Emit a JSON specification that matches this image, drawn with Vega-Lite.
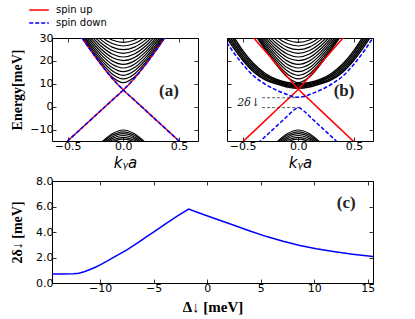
{
"$schema":"https://vega.github.io/schema/vega-lite/v6.json",
"background":"white",
"padding":{"left":9,"top":2,"right":5,"bottom":2},
"datasets":{
"cb":[
{"b":1,"k":-0.4,"e":32.16},{"b":1,"k":-0.3,"e":25.1},{"b":1,"k":-0.2,"e":18.47},{"b":1,"k":-0.1,"e":12.96},{"b":1,"k":0,"e":10.5},{"b":1,"k":0.1,"e":12.96},{"b":1,"k":0.2,"e":18.47},{"b":1,"k":0.3,"e":25.1},{"b":1,"k":0.4,"e":32.16},
{"b":2,"k":-0.4,"e":32.72},{"b":2,"k":-0.3,"e":25.81},{"b":2,"k":-0.2,"e":19.43},{"b":2,"k":-0.1,"e":14.29},{"b":2,"k":0,"e":12.1},{"b":2,"k":0.1,"e":14.29},{"b":2,"k":0.2,"e":19.43},{"b":2,"k":0.3,"e":25.81},{"b":2,"k":0.4,"e":32.72},
{"b":3,"k":-0.4,"e":33.34},{"b":3,"k":-0.3,"e":26.6},{"b":3,"k":-0.2,"e":20.46},{"b":3,"k":-0.1,"e":15.67},{"b":3,"k":0,"e":13.7},{"b":3,"k":0.1,"e":15.67},{"b":3,"k":0.2,"e":20.46},{"b":3,"k":0.3,"e":26.6},{"b":3,"k":0.4,"e":33.34},
{"b":4,"k":-0.4,"e":34.03},{"b":4,"k":-0.3,"e":27.46},{"b":4,"k":-0.2,"e":21.57},{"b":4,"k":-0.1,"e":17.08},{"b":4,"k":0,"e":15.3},{"b":4,"k":0.1,"e":17.08},{"b":4,"k":0.2,"e":21.57},{"b":4,"k":0.3,"e":27.46},{"b":4,"k":0.4,"e":34.03},
{"b":5,"k":-0.4,"e":34.78},{"b":5,"k":-0.3,"e":28.38},{"b":5,"k":-0.2,"e":22.73},{"b":5,"k":-0.1,"e":18.53},{"b":5,"k":0,"e":16.9},{"b":5,"k":0.1,"e":18.53},{"b":5,"k":0.2,"e":22.73},{"b":5,"k":0.3,"e":28.38},{"b":5,"k":0.4,"e":34.78},
{"b":6,"k":-0.4,"e":35.58},{"b":6,"k":-0.3,"e":29.36},{"b":6,"k":-0.2,"e":23.94},{"b":6,"k":-0.1,"e":20.0},{"b":6,"k":0,"e":18.5},{"b":6,"k":0.1,"e":20.0},{"b":6,"k":0.2,"e":23.94},{"b":6,"k":0.3,"e":29.36},{"b":6,"k":0.4,"e":35.58},
{"b":7,"k":-0.4,"e":36.44},{"b":7,"k":-0.3,"e":30.4},{"b":7,"k":-0.2,"e":25.2},{"b":7,"k":-0.1,"e":21.49},{"b":7,"k":0,"e":20.1},{"b":7,"k":0.1,"e":21.49},{"b":7,"k":0.2,"e":25.2},{"b":7,"k":0.3,"e":30.4},{"b":7,"k":0.4,"e":36.44},
{"b":8,"k":-0.3,"e":31.48},{"b":8,"k":-0.2,"e":26.49},{"b":8,"k":-0.1,"e":22.99},{"b":8,"k":0,"e":21.7},{"b":8,"k":0.1,"e":22.99},{"b":8,"k":0.2,"e":26.49},{"b":8,"k":0.3,"e":31.48},
{"b":9,"k":-0.3,"e":32.6},{"b":9,"k":-0.2,"e":27.82},{"b":9,"k":-0.1,"e":24.51},{"b":9,"k":0,"e":23.3},{"b":9,"k":0.1,"e":24.51},{"b":9,"k":0.2,"e":27.82},{"b":9,"k":0.3,"e":32.6},
{"b":10,"k":-0.3,"e":33.76},{"b":10,"k":-0.2,"e":29.17},{"b":10,"k":-0.1,"e":26.03},{"b":10,"k":0,"e":24.9},{"b":10,"k":0.1,"e":26.03},{"b":10,"k":0.2,"e":29.17},{"b":10,"k":0.3,"e":33.76},
{"b":11,"k":-0.3,"e":34.96},{"b":11,"k":-0.2,"e":30.55},{"b":11,"k":-0.1,"e":27.57},{"b":11,"k":0,"e":26.5},{"b":11,"k":0.1,"e":27.57},{"b":11,"k":0.2,"e":30.55},{"b":11,"k":0.3,"e":34.96},
{"b":12,"k":-0.2,"e":31.95},{"b":12,"k":-0.1,"e":29.11},{"b":12,"k":0,"e":28.1},{"b":12,"k":0.1,"e":29.11},{"b":12,"k":0.2,"e":31.95},
{"b":13,"k":-0.2,"e":33.36},{"b":13,"k":-0.1,"e":30.66},{"b":13,"k":0,"e":29.7},{"b":13,"k":0.1,"e":30.66},{"b":13,"k":0.2,"e":33.36}
],
"vb":[
{"b":1,"k":-0.2,"e":-15.75},{"b":1,"k":-0.1,"e":-11.83},{"b":1,"k":0,"e":-10.2},{"b":1,"k":0.1,"e":-11.83},{"b":1,"k":0.2,"e":-15.75},
{"b":2,"k":-0.2,"e":-16.28},{"b":2,"k":-0.1,"e":-12.53},{"b":2,"k":0,"e":-11.0},{"b":2,"k":0.1,"e":-12.53},{"b":2,"k":0.2,"e":-16.28},
{"b":3,"k":-0.2,"e":-16.83},{"b":3,"k":-0.1,"e":-13.24},{"b":3,"k":0,"e":-11.8},{"b":3,"k":0.1,"e":-13.24},{"b":3,"k":0.2,"e":-16.83},
{"b":4,"k":-0.2,"e":-17.4},{"b":4,"k":-0.1,"e":-13.96},{"b":4,"k":0,"e":-12.6},{"b":4,"k":0.1,"e":-13.96},{"b":4,"k":0.2,"e":-17.4},
{"b":5,"k":-0.2,"e":-17.99},{"b":5,"k":-0.1,"e":-14.68},{"b":5,"k":0,"e":-13.4},{"b":5,"k":0.1,"e":-14.68},{"b":5,"k":0.2,"e":-17.99},
{"b":6,"k":-0.2,"e":-18.59},{"b":6,"k":-0.1,"e":-15.42},{"b":6,"k":0,"e":-14.2},{"b":6,"k":0.1,"e":-15.42},{"b":6,"k":0.2,"e":-18.59}
],
"ea":[
{"spin":"spin up","l":"A","k":-0.7,"e":-23.9},{"spin":"spin up","l":"A","k":-0.5,"e":-15.0},{"spin":"spin up","l":"A","k":-0.3,"e":-6.08},{"spin":"spin up","l":"A","k":-0.1,"e":2.84},{"spin":"spin up","l":"A","k":0,"e":7.3},{"spin":"spin up","l":"A","k":0.1,"e":12.4},{"spin":"spin up","l":"A","k":0.2,"e":18.5},{"spin":"spin up","l":"A","k":0.3,"e":25.1},{"spin":"spin up","l":"A","k":0.4,"e":32.2},
{"spin":"spin up","l":"B","k":0.7,"e":-23.9},{"spin":"spin up","l":"B","k":0.5,"e":-15.0},{"spin":"spin up","l":"B","k":0.3,"e":-6.08},{"spin":"spin up","l":"B","k":0.1,"e":2.84},{"spin":"spin up","l":"B","k":0,"e":7.3},{"spin":"spin up","l":"B","k":-0.1,"e":12.4},{"spin":"spin up","l":"B","k":-0.2,"e":18.5},{"spin":"spin up","l":"B","k":-0.3,"e":25.1},{"spin":"spin up","l":"B","k":-0.4,"e":32.2},
{"spin":"spin down","l":"A","k":-0.7,"e":-23.9},{"spin":"spin down","l":"A","k":-0.5,"e":-15.0},{"spin":"spin down","l":"A","k":-0.3,"e":-6.08},{"spin":"spin down","l":"A","k":-0.1,"e":2.84},{"spin":"spin down","l":"A","k":0,"e":7.3},{"spin":"spin down","l":"A","k":0.1,"e":12.4},{"spin":"spin down","l":"A","k":0.2,"e":18.5},{"spin":"spin down","l":"A","k":0.3,"e":25.1},{"spin":"spin down","l":"A","k":0.4,"e":32.2},
{"spin":"spin down","l":"B","k":0.7,"e":-23.9},{"spin":"spin down","l":"B","k":0.5,"e":-15.0},{"spin":"spin down","l":"B","k":0.3,"e":-6.08},{"spin":"spin down","l":"B","k":0.1,"e":2.84},{"spin":"spin down","l":"B","k":0,"e":7.3},{"spin":"spin down","l":"B","k":-0.1,"e":12.4},{"spin":"spin down","l":"B","k":-0.2,"e":18.5},{"spin":"spin down","l":"B","k":-0.3,"e":25.1},{"spin":"spin down","l":"B","k":-0.4,"e":32.2}
],
"db":[
{"b":1,"k":-0.7,"e":34.6},{"b":1,"k":-0.6,"e":27.0},{"b":1,"k":-0.5,"e":20.4},{"b":1,"k":-0.4,"e":15.2},{"b":1,"k":-0.3,"e":11.8},{"b":1,"k":-0.2,"e":10.0},{"b":1,"k":-0.1,"e":8.6},{"b":1,"k":0,"e":8.0},{"b":1,"k":0.1,"e":8.6},{"b":1,"k":0.2,"e":10.0},{"b":1,"k":0.3,"e":11.8},{"b":1,"k":0.4,"e":15.2},{"b":1,"k":0.5,"e":20.4},{"b":1,"k":0.6,"e":27.0},{"b":1,"k":0.7,"e":34.6},
{"b":2,"k":-0.7,"e":36.0},{"b":2,"k":-0.6,"e":28.2},{"b":2,"k":-0.5,"e":21.4},{"b":2,"k":-0.4,"e":16.0},{"b":2,"k":-0.3,"e":12.5},{"b":2,"k":-0.2,"e":10.5},{"b":2,"k":-0.1,"e":9.1},{"b":2,"k":0,"e":8.5},{"b":2,"k":0.1,"e":9.1},{"b":2,"k":0.2,"e":10.5},{"b":2,"k":0.3,"e":12.5},{"b":2,"k":0.4,"e":16.0},{"b":2,"k":0.5,"e":21.4},{"b":2,"k":0.6,"e":28.2},{"b":2,"k":0.7,"e":36.0},
{"b":3,"k":-0.7,"e":37.4},{"b":3,"k":-0.6,"e":29.4},{"b":3,"k":-0.5,"e":22.4},{"b":3,"k":-0.4,"e":16.9},{"b":3,"k":-0.3,"e":13.2},{"b":3,"k":-0.2,"e":11.0},{"b":3,"k":-0.1,"e":9.6},{"b":3,"k":0,"e":9.0},{"b":3,"k":0.1,"e":9.6},{"b":3,"k":0.2,"e":11.0},{"b":3,"k":0.3,"e":13.2},{"b":3,"k":0.4,"e":16.9},{"b":3,"k":0.5,"e":22.4},{"b":3,"k":0.6,"e":29.4},{"b":3,"k":0.7,"e":37.4},
{"b":4,"k":-0.6,"e":30.7},{"b":4,"k":-0.5,"e":23.5},{"b":4,"k":-0.4,"e":17.8},{"b":4,"k":-0.3,"e":13.9},{"b":4,"k":-0.2,"e":11.5},{"b":4,"k":-0.1,"e":10.1},{"b":4,"k":0,"e":9.5},{"b":4,"k":0.1,"e":10.1},{"b":4,"k":0.2,"e":11.5},{"b":4,"k":0.3,"e":13.9},{"b":4,"k":0.4,"e":17.8},{"b":4,"k":0.5,"e":23.5},{"b":4,"k":0.6,"e":30.7},
{"b":5,"k":-0.6,"e":32.0},{"b":5,"k":-0.5,"e":24.6},{"b":5,"k":-0.4,"e":18.7},{"b":5,"k":-0.3,"e":14.6},{"b":5,"k":-0.2,"e":12.0},{"b":5,"k":-0.1,"e":10.6},{"b":5,"k":0,"e":10.0},{"b":5,"k":0.1,"e":10.6},{"b":5,"k":0.2,"e":12.0},{"b":5,"k":0.3,"e":14.6},{"b":5,"k":0.4,"e":18.7},{"b":5,"k":0.5,"e":24.6},{"b":5,"k":0.6,"e":32.0}
],
"eb":[
{"spin":"up","l":"A","k":-0.7,"e":-24.6},{"spin":"up","l":"A","k":-0.5,"e":-15.4},{"spin":"up","l":"A","k":-0.3,"e":-6.2},{"spin":"up","l":"A","k":-0.1,"e":3.0},{"spin":"up","l":"A","k":0,"e":7.6},{"spin":"up","l":"A","k":0.1,"e":13.2},{"spin":"up","l":"A","k":0.2,"e":18.8},{"spin":"up","l":"A","k":0.3,"e":24.4},{"spin":"up","l":"A","k":0.4,"e":30.0},{"spin":"up","l":"A","k":0.5,"e":35.6},
{"spin":"up","l":"B","k":0.7,"e":-24.6},{"spin":"up","l":"B","k":0.5,"e":-15.4},{"spin":"up","l":"B","k":0.3,"e":-6.2},{"spin":"up","l":"B","k":0.1,"e":3.0},{"spin":"up","l":"B","k":0,"e":7.6},{"spin":"up","l":"B","k":-0.1,"e":13.2},{"spin":"up","l":"B","k":-0.2,"e":18.8},{"spin":"up","l":"B","k":-0.3,"e":24.4},{"spin":"up","l":"B","k":-0.4,"e":30.0},{"spin":"up","l":"B","k":-0.5,"e":35.6},
{"spin":"down","l":"U","k":-0.7,"e":32.5},{"spin":"down","l":"U","k":-0.6,"e":25.0},{"spin":"down","l":"U","k":-0.5,"e":18.6},{"spin":"down","l":"U","k":-0.4,"e":13.4},{"spin":"down","l":"U","k":-0.3,"e":9.9},{"spin":"down","l":"U","k":-0.2,"e":7.3},{"spin":"down","l":"U","k":-0.1,"e":5.3},{"spin":"down","l":"U","k":-0.05,"e":4.4},{"spin":"down","l":"U","k":0,"e":4.1},{"spin":"down","l":"U","k":0.05,"e":4.4},{"spin":"down","l":"U","k":0.1,"e":5.3},{"spin":"down","l":"U","k":0.2,"e":7.3},{"spin":"down","l":"U","k":0.3,"e":9.9},{"spin":"down","l":"U","k":0.4,"e":13.4},{"spin":"down","l":"U","k":0.5,"e":18.6},{"spin":"down","l":"U","k":0.6,"e":25.0},{"spin":"down","l":"U","k":0.7,"e":32.5},
{"spin":"down","l":"L","k":-0.4,"e":-17.7},{"spin":"down","l":"L","k":-0.3,"e":-13.2},{"spin":"down","l":"L","k":-0.2,"e":-8.7},{"spin":"down","l":"L","k":-0.1,"e":-4.2},{"spin":"down","l":"L","k":-0.05,"e":-1.9},{"spin":"down","l":"L","k":0,"e":-0.4},{"spin":"down","l":"L","k":0.05,"e":-1.9},{"spin":"down","l":"L","k":0.1,"e":-4.2},{"spin":"down","l":"L","k":0.2,"e":-8.7},{"spin":"down","l":"L","k":0.3,"e":-13.2},{"spin":"down","l":"L","k":0.4,"e":-17.7}
],
"an":[
{"l":1,"k":-0.325,"e":3.9},{"l":1,"k":-0.02,"e":3.9},{"l":2,"k":-0.325,"e":-0.4},{"l":2,"k":0.01,"e":-0.4}
],
"gp":[
{"d":-14.5,"g":0.70},{"d":-13.5,"g":0.70},{"d":-12.5,"g":0.72},{"d":-12.0,"g":0.77},{"d":-11.5,"g":0.88},{"d":-11.0,"g":1.04},{"d":-10.5,"g":1.22},{"d":-10.0,"g":1.42},{"d":-9.4,"g":1.69},{"d":-8.5,"g":2.12},{"d":-7.5,"g":2.6},{"d":-6.5,"g":3.15},{"d":-5.65,"g":3.64},{"d":-4.7,"g":4.17},{"d":-3.79,"g":4.69},{"d":-2.8,"g":5.25},{"d":-1.73,"g":5.8},{"d":-0.67,"g":5.47},{"d":0.9,"g":5.0},{"d":2.44,"g":4.55},{"d":4.0,"g":4.08},{"d":5.56,"g":3.64},{"d":7.1,"g":3.27},{"d":8.67,"g":2.94},{"d":10.2,"g":2.68},{"d":11.79,"g":2.47},{"d":13.6,"g":2.26},{"d":15.5,"g":2.07}
]
},
"config":{
"view":{"stroke":"black","strokeWidth":1},
"axis":{"domain":false,"grid":false,"tickSize":-4,"tickColor":"black","tickWidth":0.8,"labelFont":"DejaVu Sans","labelFontSize":11,"labelColor":"black","labelPadding":3,"titleFont":"Liberation Serif","titleFontWeight":"bold","titleColor":"black","labelFlush":false,"labelOverlap":false}
},
"spacing":3,
"vconcat":[
{
"spacing":27,
"hconcat":[
{
"width":146,"height":103,
"resolve":{"axis":{"x":"independent","y":"independent"}},
"encoding":{
"x":{"field":"k","type":"quantitative","scale":{"domain":[-0.64,0.67],"nice":false,"zero":false},"axis":null},
"y":{"field":"e","type":"quantitative","scale":{"domain":[-15,30],"nice":false,"zero":false},"axis":null}
},
"layer":[
{"data":{"name":"cb"},"mark":{"type":"line","color":"black","strokeWidth":1.2,"clip":true,"interpolate":"monotone"},
"encoding":{"detail":{"field":"b","type":"nominal"},
"x":{"field":"k","type":"quantitative","scale":{"domain":[-0.64,0.67],"nice":false,"zero":false},"axis":{"values":[-0.5,0,0.5],"format":".1f","title":"kᵧa","titleFont":"DejaVu Sans","titleFontStyle":"italic","titleFontWeight":"normal","titleFontSize":15,"titlePadding":4}},
"y":{"field":"e","type":"quantitative","scale":{"domain":[-15,30],"nice":false,"zero":false},"axis":{"values":[-10,0,10,20,30],"title":"Energy[meV]","titleFontSize":14,"titlePadding":1,"minExtent":27,"maxExtent":27}}}},
{"data":{"name":"vb"},"mark":{"type":"line","color":"black","strokeWidth":1.2,"clip":true,"interpolate":"monotone"},"encoding":{"detail":{"field":"b","type":"nominal"}}},
{"data":{"name":"ea"},"transform":[{"filter":"datum.spin == 'spin up'"}],"mark":{"type":"line","strokeWidth":1.5,"clip":true,"interpolate":"monotone"},
"encoding":{"detail":{"field":"l","type":"nominal"},
"color":{"field":"spin","type":"nominal","scale":{"domain":["spin up","spin down"],"range":["#ff0000","#0000ff"]},"legend":{"orient":"none","legendX":-21,"legendY":-36,"title":null,"symbolType":"M-1.4,0H1.4","symbolSize":196,"symbolStrokeWidth":1.5,"labelFont":"DejaVu Sans","labelFontSize":10,"labelColor":"black","labelOffset":9,"rowPadding":-1}},
"strokeDash":{"field":"spin","type":"nominal","scale":{"domain":["spin up","spin down"],"range":[[1,0],[4,2]]},"legend":{"orient":"none","legendX":-21,"legendY":-36,"title":null,"symbolType":"M-1.4,0H1.4","symbolSize":196,"symbolStrokeWidth":1.5,"labelFont":"DejaVu Sans","labelFontSize":10,"labelColor":"black","labelOffset":9,"rowPadding":-1}}}},
{"data":{"name":"ea"},"transform":[{"filter":"datum.spin == 'spin down'"}],"mark":{"type":"line","strokeWidth":1.5,"clip":true,"interpolate":"monotone"},
"encoding":{"detail":{"field":"l","type":"nominal"},
"color":{"field":"spin","type":"nominal","scale":{"domain":["spin up","spin down"],"range":["#ff0000","#0000ff"]},"legend":{"orient":"none","legendX":-21,"legendY":-36,"title":null,"symbolType":"M-1.4,0H1.4","symbolSize":196,"symbolStrokeWidth":1.5,"labelFont":"DejaVu Sans","labelFontSize":10,"labelColor":"black","labelOffset":9,"rowPadding":-1}},
"strokeDash":{"field":"spin","type":"nominal","scale":{"domain":["spin up","spin down"],"range":[[1,0],[4,2]]},"legend":{"orient":"none","legendX":-21,"legendY":-36,"title":null,"symbolType":"M-1.4,0H1.4","symbolSize":196,"symbolStrokeWidth":1.5,"labelFont":"DejaVu Sans","labelFontSize":10,"labelColor":"black","labelOffset":9,"rowPadding":-1}}}},
{"data":{"values":[{"t":"(a)","k":0.41,"e":7}]},"mark":{"type":"text","font":"Liberation Serif","fontWeight":"bold","fontSize":17,"align":"center","baseline":"middle","color":"#222"},
"encoding":{"text":{"field":"t","type":"nominal"},
"x":{"field":"k","type":"quantitative","scale":{"domain":[-0.64,0.67],"nice":false,"zero":false},"axis":{"orient":"top","values":[-0.5,0,0.5],"labels":false,"title":null}},
"y":{"field":"e","type":"quantitative","scale":{"domain":[-15,30],"nice":false,"zero":false},"axis":{"orient":"right","values":[-10,0,10,20,30],"labels":false,"title":null}}}}
]
},
{
"width":146,"height":103,
"resolve":{"axis":{"x":"independent","y":"independent"}},
"encoding":{
"x":{"field":"k","type":"quantitative","scale":{"domain":[-0.64,0.67],"nice":false,"zero":false},"axis":null},
"y":{"field":"e","type":"quantitative","scale":{"domain":[-15,30],"nice":false,"zero":false},"axis":null}
},
"layer":[
{"data":{"name":"cb"},"mark":{"type":"line","color":"black","strokeWidth":1.2,"clip":true,"interpolate":"monotone"},
"encoding":{"detail":{"field":"b","type":"nominal"},
"x":{"field":"k","type":"quantitative","scale":{"domain":[-0.64,0.67],"nice":false,"zero":false},"axis":{"values":[-0.5,0,0.5],"format":".1f","title":"kᵧa","titleFont":"DejaVu Sans","titleFontStyle":"italic","titleFontWeight":"normal","titleFontSize":15,"titlePadding":4}},
"y":{"field":"e","type":"quantitative","scale":{"domain":[-15,30],"nice":false,"zero":false},"axis":{"values":[-10,0,10,20,30],"labels":false,"title":null}}}},
{"data":{"name":"vb"},"mark":{"type":"line","color":"black","strokeWidth":1.2,"clip":true,"interpolate":"monotone"},"encoding":{"detail":{"field":"b","type":"nominal"}}},
{"data":{"name":"db"},"mark":{"type":"line","color":"black","strokeWidth":1.5,"clip":true,"interpolate":"monotone"},"encoding":{"detail":{"field":"b","type":"nominal"}}},
{"data":{"name":"eb"},"transform":[{"filter":"datum.spin == 'up'"}],"mark":{"type":"line","color":"#ff0000","strokeWidth":1.5,"clip":true,"interpolate":"monotone"},"encoding":{"detail":{"field":"l","type":"nominal"}}},
{"data":{"name":"eb"},"transform":[{"filter":"datum.spin == 'down'"}],"mark":{"type":"line","color":"#0000ff","strokeWidth":1.5,"strokeDash":[4,2],"clip":true,"interpolate":"monotone"},"encoding":{"detail":{"field":"l","type":"nominal"}}},
{"data":{"name":"an"},"mark":{"type":"line","color":"#333333","strokeWidth":0.8,"strokeDash":[3,2],"clip":true},"encoding":{"detail":{"field":"l","type":"nominal"}}},
{"data":{"values":[{"t":"2δ↓","k":-0.445,"e":1.5}]},"mark":{"type":"text","font":"DejaVu Serif","fontStyle":"italic","fontSize":11,"align":"center","baseline":"middle","color":"#222"},"encoding":{"text":{"field":"t","type":"nominal"}}},
{"data":{"values":[{"t":"(b)","k":0.41,"e":7}]},"mark":{"type":"text","font":"Liberation Serif","fontWeight":"bold","fontSize":17,"align":"center","baseline":"middle","color":"#222"},
"encoding":{"text":{"field":"t","type":"nominal"},
"x":{"field":"k","type":"quantitative","scale":{"domain":[-0.64,0.67],"nice":false,"zero":false},"axis":{"orient":"top","values":[-0.5,0,0.5],"labels":false,"title":null}},
"y":{"field":"e","type":"quantitative","scale":{"domain":[-15,30],"nice":false,"zero":false},"axis":{"orient":"right","values":[-10,0,10,20,30],"labels":false,"title":null}}}}
]
}
]
},
{
"width":321,"height":102,
"resolve":{"axis":{"x":"independent","y":"independent"}},
"encoding":{
"x":{"field":"d","type":"quantitative","scale":{"domain":[-14.5,15.5],"nice":false,"zero":false},"axis":null},
"y":{"field":"g","type":"quantitative","scale":{"domain":[0,8],"nice":false,"zero":false},"axis":null}
},
"layer":[
{"data":{"name":"gp"},"mark":{"type":"line","color":"#0000ff","strokeWidth":1.5,"clip":true},
"encoding":{
"x":{"field":"d","type":"quantitative","scale":{"domain":[-14.5,15.5],"nice":false,"zero":false},"axis":{"values":[-10,-5,0,5,10,15],"title":"Δ↓ [meV]","titleFontSize":15,"titlePadding":6}},
"y":{"field":"g","type":"quantitative","scale":{"domain":[0,8],"nice":false,"zero":false},"axis":{"values":[0,2,4,6,8],"format":".1f","title":"2δ↓ [meV]","titleFontSize":14,"titlePadding":1,"minExtent":27,"maxExtent":27}}}},
{"data":{"values":[{"t":"(c)","d":13.0,"g":6.25}]},"mark":{"type":"text","font":"Liberation Serif","fontWeight":"bold","fontSize":17,"align":"center","baseline":"middle","color":"#222"},
"encoding":{"text":{"field":"t","type":"nominal"},
"x":{"field":"d","type":"quantitative","scale":{"domain":[-14.5,15.5],"nice":false,"zero":false},"axis":{"orient":"top","values":[-10,-5,0,5,10,15],"labels":false,"title":null}},
"y":{"field":"g","type":"quantitative","scale":{"domain":[0,8],"nice":false,"zero":false},"axis":{"orient":"right","values":[0,2,4,6,8],"labels":false,"title":null}}}}
]
}
]
}
